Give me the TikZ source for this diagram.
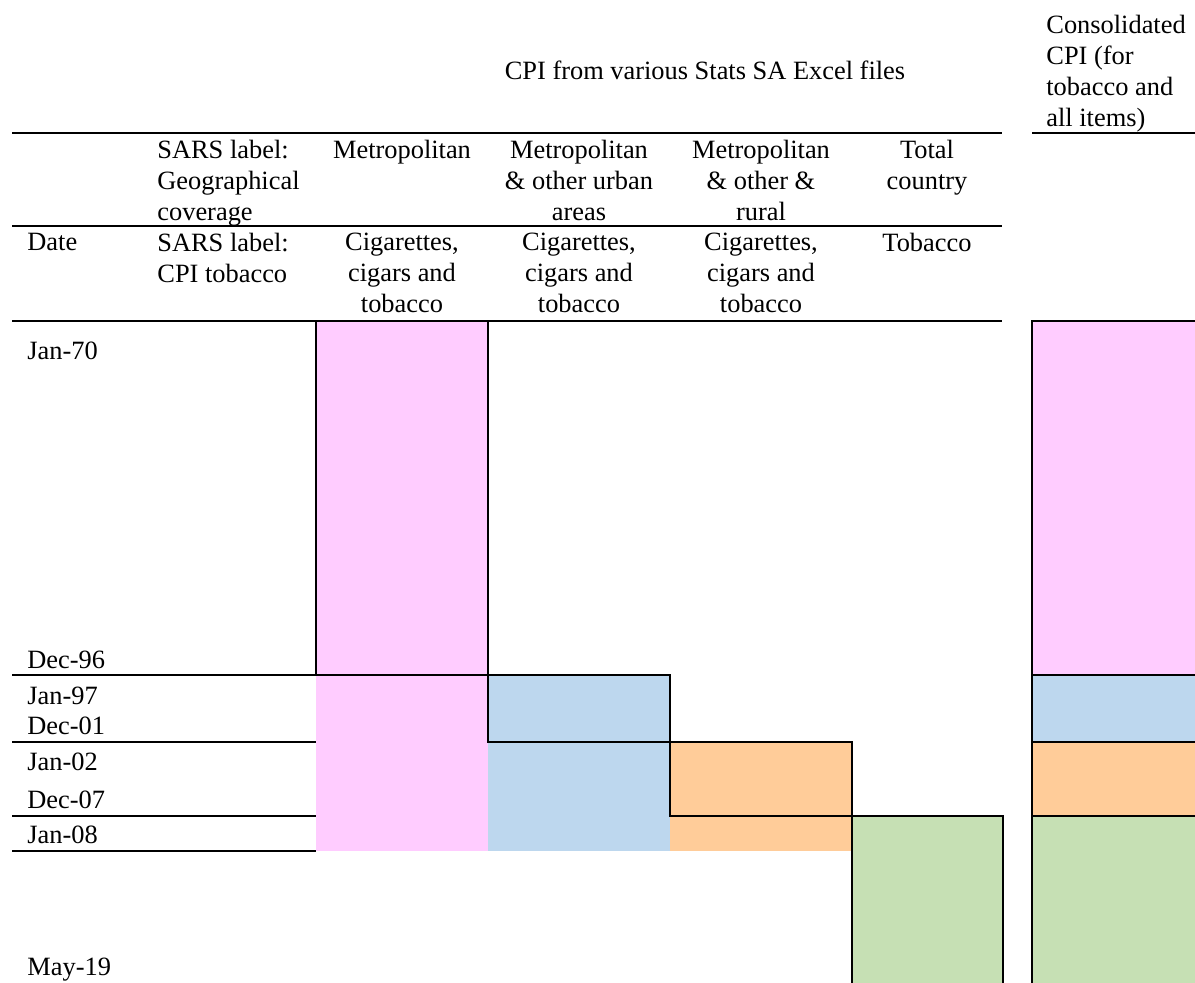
\documentclass[tikz,border=0pt]{standalone}
\usepackage{fontspec}
\setmainfont{Liberation Serif}
\usepackage{tikz}
\usetikzlibrary{positioning}

\definecolor{metpink}{HTML}{FFCCFF}
\definecolor{urbblue}{HTML}{BDD7EE}
\definecolor{rurorange}{HTML}{FFCC99}
\definecolor{totgreen}{HTML}{C6E0B4}

\begin{document}
\begin{tikzpicture}[x=0.5pt, y=-0.5pt, every node/.style={font=\fontsize{13.2}{15.5}\selectfont, inner sep=0pt}]
    \tikzstyle{hdr}=[anchor=north, align=center]
    \tikzstyle{hdrleft}=[anchor=north west, align=left]
    \tikzstyle{datelbl}=[anchor=base west]
    \tikzstyle{rule}=[line width=1pt]

    \useasboundingbox (0,0) rectangle (1195,983);
    \clip (0,0) rectangle (1195,983);

    % coloured series blocks
    \fill[metpink] (316,321) rectangle (488,851);
    \fill[urbblue] (488,675) rectangle (670,851);
    \fill[rurorange] (670,742) rectangle (852,851);
    \fill[totgreen] (852,816) rectangle (1003,995);

    \fill[metpink] (1032,321) rectangle (1205,675);
    \fill[urbblue] (1032,675) rectangle (1205,742);
    \fill[rurorange] (1032,742) rectangle (1205,816);
    \fill[totgreen] (1032,816) rectangle (1205,995);

    % table rules
    \draw[rule] (12,133) -- (1002,133);
    \draw[rule] (1032,133) -- (1205,133);
    \draw[rule] (12,226) -- (1002,226);
    \draw[rule] (12,321) -- (1002,321);
    \draw[rule] (12,675) -- (316,675);
    \foreach \y in {742,816,851} \draw[rule] (12,\y) -- (316,\y);

    \draw[rule] (316,321) rectangle (488,675);
    \draw[rule] (488,675) rectangle (670,742);
    \draw[rule] (670,742) rectangle (852,816);
    \draw[rule] (852,995) |- (1003,816) -- (1003,995);

    \draw[rule] (1205,321) -| (1032,995);
    \foreach \y in {675,742,816} \draw[rule] (1032,\y) -- (1205,\y);

    % headings
    \node[anchor=base] (srctitle) at (705,80) {CPI from various Stats SA Excel files};
    \node[hdrleft] (consol) at (1046,15) {Consolidated\\CPI (for\\tobacco and\\all items)};

    \node[hdrleft] (geolbl) at (157,140) {SARS label:\\Geographical\\coverage};
    \node[hdr] (geometro) at (402,140) {Metropolitan};
    \node[hdr] (geourban) at (579,140) {Metropolitan\\\& other urban\\areas};
    \node[hdr] (georural) at (761,140) {Metropolitan\\\& other \&\\rural};
    \node[hdr] (geototal) at (927,140) {Total\\country};

    \node[hdrleft] (datehdr) at (27,233) {Date};
    \node[hdrleft] (itemlbl) at (157,233) {SARS label:\\CPI tobacco};
    \node[hdr] (itemmetro) at (402,233) {Cigarettes,\\cigars and\\tobacco};
    \node[hdr] (itemurban) at (579,233) {Cigarettes,\\cigars and\\tobacco};
    \node[hdr] (itemrural) at (761,233) {Cigarettes,\\cigars and\\tobacco};
    \node[hdr] (itemtotal) at (927,233) {Tobacco};

    % dates
    \foreach \d/\y in {Jan-70/360, Dec-96/669, Jan-97/705, Dec-01/735, Jan-02/771, Dec-07/809, Jan-08/844, May-19/975}
        \node[datelbl] (date-\y) at (27,\y) {\d};
\end{tikzpicture}
\end{document}
